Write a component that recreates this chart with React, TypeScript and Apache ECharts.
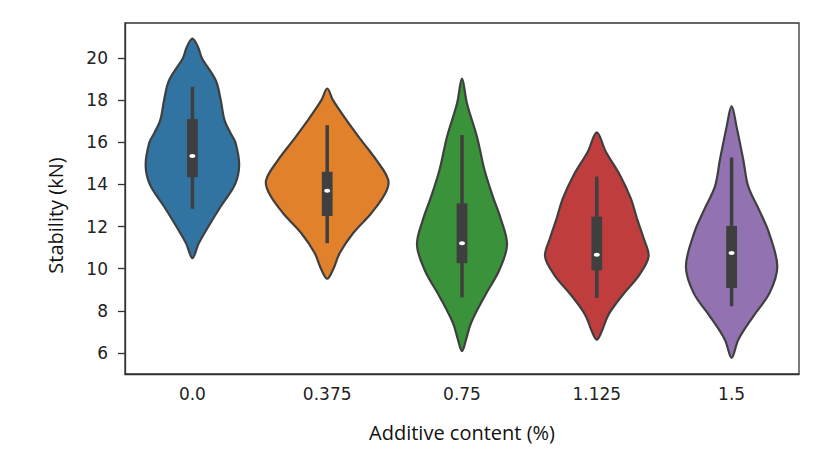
import React, { useEffect, useRef } from "react";
import * as echarts from "echarts";

const categories = ["0.0", "0.375", "0.75", "1.125", "1.5"];
const colors = ["#3274a1", "#e1812c", "#3a923a", "#c03d3e", "#9372b2"];
const yTicks = [6, 8, 10, 12, 14, 16, 18, 20];

// violin outlines: [stability (kN), half-width as fraction of the category band]
const profile00 = [
  [20.92, 0], [20.5, 0.043], [20.0, 0.07], [18.94, 0.173], [18.0, 0.21], [17.05, 0.238],
  [16.42, 0.284], [16.0, 0.319], [14.92, 0.347], [14.0, 0.316], [12.95, 0.21],
  [12.0, 0.119], [11.2, 0.047], [10.5, 0],
];
const profile0375 = [
  [18.55, 0], [18.0, 0.043], [17.05, 0.143], [16.1, 0.252], [15.16, 0.364], [14.21, 0.453],
  [13.58, 0.431], [12.63, 0.327], [11.69, 0.193], [10.74, 0.093], [9.95, 0.043], [9.52, 0],
];
const profile075 = [
  [19.02, 0], [17.84, 0.037], [16.26, 0.111], [14.68, 0.167], [13.42, 0.229], [12.32, 0.29],
  [11.13, 0.334], [9.95, 0.278], [8.68, 0.167], [7.42, 0.067], [6.63, 0.03], [6.08, 0],
];
const profile1125 = [
  [16.47, 0], [15.55, 0.067], [14.45, 0.171], [13.34, 0.252], [12.4, 0.297], [11.45, 0.347],
  [10.58, 0.384], [9.71, 0.316], [8.76, 0.193], [7.82, 0.087], [7.03, 0.037], [6.63, 0],
];
const profile15 = [
  [17.71, 0], [16.73, 0.037], [15.16, 0.087], [13.89, 0.124], [12.79, 0.204], [11.69, 0.278],
  [10.1, 0.339], [8.85, 0.282], [7.74, 0.161], [6.63, 0.05], [5.77, 0],
];
const profiles = [profile00, profile0375, profile075, profile1125, profile15];

const whiskerLow = [12.84, 11.21, 8.64, 8.61, 8.21];
const q1 = [14.34, 12.5, 10.26, 9.92, 9.08];
const median = [15.35, 13.7, 11.21, 10.66, 10.74];
const q3 = [17.1, 14.6, 13.1, 12.47, 12.03];
const whiskerHigh = [18.63, 16.81, 16.34, 14.37, 15.28];

const EDGE = "#3f3f3f";

export default function App() {
  const ref = useRef<HTMLDivElement>(null);
  useEffect(() => {
    if (!ref.current) return;
    const chart = echarts.init(ref.current, null, { renderer: "svg" });
    const data = categories.map((_, i) => [i, whiskerLow[i], q1[i], median[i], q3[i], whiskerHigh[i]]);
    chart.setOption({
      animation: false,
      backgroundColor: "#ffffff",
      grid: {
        left: 125, right: 38, top: 23, bottom: 85,
        show: true, borderColor: "#333", borderWidth: 1.3,
        outerBoundsMode: "none",
      },
      xAxis: {
        type: "category",
        data: categories,
        boundaryGap: true,
        axisLine: { lineStyle: { color: "#333", width: 1.3 } },
        axisTick: { alignWithLabel: true, length: 6, lineStyle: { color: "#333", width: 1.3 } },
        axisLabel: { margin: 11, fontSize: 17, fontFamily: "DejaVu Sans", color: "#222" },
        splitLine: { show: false },
        name: "Additive content (%)",
        nameLocation: "middle",
        nameGap: 48,
        nameTextStyle: { fontFamily: "Open Sans", fontSize: 20, color: "#111" },
      },
      yAxis: {
        type: "value",
        min: 5,
        max: 21.66,
        axisLine: { show: true, lineStyle: { color: "#333", width: 1.3 } },
        axisTick: { show: true, length: 7, customValues: yTicks, lineStyle: { color: "#333", width: 1.3 } },
        axisLabel: { margin: 17, fontSize: 17, fontFamily: "DejaVu Sans", color: "#222", customValues: yTicks },
        splitLine: { show: false },
        name: "Stability (kN)",
        nameLocation: "middle",
        nameGap: 60,
        nameRotate: 90,
        nameTextStyle: { fontFamily: "Open Sans", fontSize: 20, color: "#111", padding: [0, 34, 0, 0] },
      },
      series: [
        {
          type: "custom",
          data,
          clip: false,
          encode: { x: 0, y: [1, 2, 3, 4, 5] },
          renderItem: (params: any, api: any) => {
            const i = api.value(0);
            const band = api.size([1, 0])[0];
            const cx = api.coord([i, 0])[0];
            const prof = profiles[i];
            const right = prof.map(([v, w]) => [cx + w * band, api.coord([i, v])[1]]);
            const left = prof
              .slice(1, prof.length - 1)
              .reverse()
              .map(([v, w]) => [cx - w * band, api.coord([i, v])[1]]);
            const pts = right.concat(left);
            const yLo = api.coord([i, api.value(1)])[1];
            const yQ1 = api.coord([i, api.value(2)])[1];
            const yMed = api.coord([i, api.value(3)])[1];
            const yQ3 = api.coord([i, api.value(4)])[1];
            const yHi = api.coord([i, api.value(5)])[1];
            const bw = band * 0.08;
            return {
              type: "group",
              children: [
                {
                  type: "polygon",
                  shape: { points: pts, smooth: 0.35 },
                  style: { fill: colors[i], stroke: EDGE, lineWidth: 2.2 },
                },
                {
                  type: "line",
                  shape: { x1: cx, y1: yHi, x2: cx, y2: yLo },
                  style: { stroke: EDGE, lineWidth: 3.5 },
                },
                {
                  type: "rect",
                  shape: { x: cx - bw / 2, y: yQ3, width: bw, height: yQ1 - yQ3 },
                  style: { fill: EDGE },
                },
                {
                  type: "ellipse",
                  shape: { cx, cy: yMed, rx: 3, ry: 2 },
                  style: { fill: "#ffffff" },
                },
              ],
            };
          },
        },
      ],
    });
    return () => chart.dispose();
  }, []);
  return (
    <div
      ref={ref}
      style={{ position: "fixed", left: 0, top: 0, width: 837, height: 459, background: "#fff" }}
    />
  );
}
